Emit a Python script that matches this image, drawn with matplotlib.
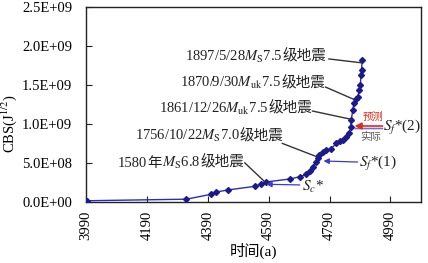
import matplotlib
matplotlib.use("Agg")
import matplotlib.pyplot as plt
from matplotlib.transforms import ScaledTranslation

plt.rcParams['font.family'] = ['Liberation Serif', 'Noto Sans CJK SC', 'DejaVu Sans']
plt.rcParams['mathtext.fontset'] = 'stix'

# data (time axis in "a", CBS in J^1/2)
years = [3992, 4320, 4401, 4418, 4455, 4545, 4564, 4580, 4659, 4692, 4714, 4725,
         4736, 4747, 4752, 4756, 4768, 4779, 4795, 4812, 4823, 4833, 4844, 4855,
         4859, 4861, 4866, 4870, 4877, 4882, 4888, 4891, 4893, 4895, 4897]
cbs_e8 = [0.20, 0.40, 1.03, 1.32, 1.58, 2.05, 2.31, 2.60, 2.99, 3.28, 3.59, 4.08,
          4.56, 5.20, 5.64, 6.06, 6.46, 6.70, 6.90, 7.55, 7.92, 8.05, 8.40, 8.85,
          9.65, 10.5, 11.8, 12.75, 13.3, 13.5, 14.4, 15.0, 16.3, 17.0, 18.2]
cbs = [v * 1e8 for v in cbs_e8]

xticks = [3990, 4190, 4390, 4590, 4790, 4990]
yticks = [0, 5e8, 1e9, 1.5e9, 2e9, 2.5e9]
ytick_labels = ['0.0E+00', '5.0E+08', '1.0E+09', '1.5E+09', '2.0E+09', '2.5E+09']

CJK = ['Noto Sans CJK SC', 'DejaVu Sans']
SER = ['Liberation Serif', 'DejaVu Sans']
quake_labels = [
    [(r'1897/5/28$M_\mathrm{S}$7.5', SER), ('级地震', CJK)],
    [(r'1870/9/30$M_\mathrm{uk}$7.5', SER), ('级地震', CJK)],
    [(r'1861/12/26$M_\mathrm{uk}$7.5', SER), ('级地震', CJK)],
    [(r'1756/10/22$M_\mathrm{S}$7.0', SER), ('级地震', CJK)],
    [('1580', SER), ('年', CJK), (r'$M_\mathrm{S}$6.8', SER), ('级地震', CJK)],
]
quake_text_xy = [(4781, 1.82e9), (4775, 1.475e9), (4732, 1.148e9), (4640, 7.95e8), (4509, 4.55e8)]
quake_line_start = [(4787, 1.84e9), (4776, 1.48e9), (4733, 1.172e9), (4634, 7.57e8), (4511, 5.08e8)]
quake_line_end = [(4895, 1.79e9), (4869, 1.322e9), (4861, 1.065e9), (4748, 5.85e8), (4577, 2.64e8)]

fig = plt.figure(figsize=(4.28, 2.63), dpi=100)
ax = fig.add_axes([0.2009, 0.2308, 0.7826, 0.7407])
renderer = fig.canvas.get_renderer()


def rich_text(x, y, segments, ha='right', **kw):
    arts, widths = [], []
    for s, fam in segments:
        t = ax.text(x, y, s, va='baseline', ha='left', family=fam, **kw)
        widths.append(t.get_window_extent(renderer).width)
        arts.append(t)
    total = sum(widths)
    cum = -total if ha == 'right' else (-total / 2 if ha == 'center' else 0)
    for t, w in zip(arts, widths):
        t.set_transform(ax.transData + ScaledTranslation(cum / fig.dpi, 0, fig.dpi_scale_trans))
        cum += w


ax.plot(years, cbs, color='#2b2bb8', lw=1.0, marker='D', markersize=3.0,
        markerfacecolor='#1a1a8c', markeredgecolor='#1a1a8c', zorder=3)

ax.set_xlim(3990, 5090)
ax.set_ylim(0, 2.5e9)
ax.set_xticks(xticks)
ax.set_xticklabels([str(t) for t in xticks], rotation=90, fontsize=10.5)
ax.set_yticks(yticks)
ax.set_yticklabels(ytick_labels, fontsize=10.5)
ax.tick_params(axis='both', direction='in', length=4, width=0.8, color='#222222')
ax.tick_params(axis='y', pad=10)
ax.tick_params(axis='x', pad=6)
for s in ax.spines.values():
    s.set_linewidth(1.0)
    s.set_color('#222222')

ax.set_xlabel('时间(a)', fontsize=11, labelpad=2)
ax.set_ylabel(r'CBS(J$^{1/2}$)', fontsize=10.5)
ax.yaxis.set_label_coords(-0.200, 0.405)

for segs, txy, ls, le in zip(quake_labels, quake_text_xy, quake_line_start, quake_line_end):
    rich_text(txy[0], txy[1], segs, ha='right', fontsize=10.5, color='#222222')
    ax.annotate('', xy=le, xytext=ls,
                arrowprops=dict(arrowstyle='-', color='#333333', lw=1.0,
                                shrinkA=0, shrinkB=0))

blue = '#3a3ad0'
# S_c*
ax.annotate('', xy=(4582, 2.31e8), xytext=(4692, 2.23e8),
            arrowprops=dict(arrowstyle='-|>', color=blue, lw=0.9,
                            mutation_scale=8, shrinkA=0, shrinkB=0))
ax.text(4698, 1.96e8, r'$S_c$*', ha='left', va='center', fontsize=11, color='#222222')
# S_f*(1)
ax.annotate('', xy=(4770, 5.30e8), xytext=(4882, 5.17e8),
            arrowprops=dict(arrowstyle='-|>', color=blue, lw=0.9,
                            mutation_scale=8, shrinkA=0, shrinkB=0))
ax.text(4888, 5.0e8, r'$S_f$*(1)', ha='left', va='center', fontsize=11, color='#222222')
# S_f*(2) predicted / actual
ax.annotate('', xy=(4964, 9.47e8), xytext=(4874, 9.47e8),
            arrowprops=dict(arrowstyle='-', color='#7070d8', lw=1.2,
                            shrinkA=0, shrinkB=0))
ax.annotate('', xy=(4872, 9.79e8), xytext=(4964, 9.79e8),
            arrowprops=dict(arrowstyle='-|>', color='#e02a1e', lw=1.2,
                            mutation_scale=10, shrinkA=0, shrinkB=0))
ax.text(4931, 1.10e9, '预测', ha='center', va='center', fontsize=7.5, color='#e02a1e', family=CJK)
ax.text(4926, 8.35e8, '实际', ha='center', va='center', fontsize=7.5, color='#555555', family=CJK)
ax.text(4967, 9.57e8, r'$S_f$*(2)', ha='left', va='center', fontsize=11, color='#222222')

fig.savefig('out.png', dpi=100)
